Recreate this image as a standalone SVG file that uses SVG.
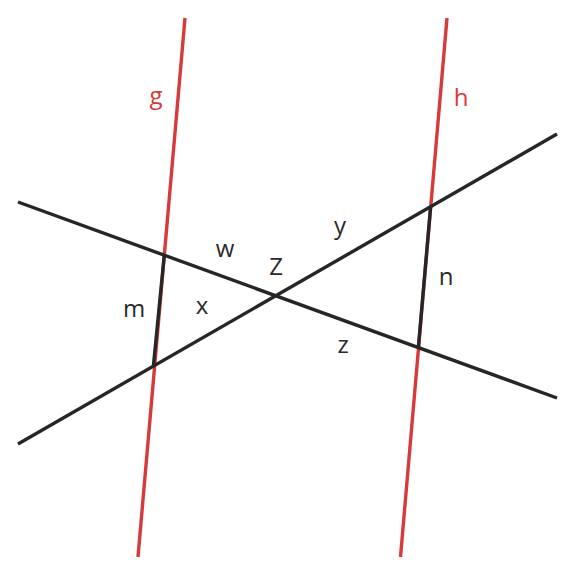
<svg xmlns="http://www.w3.org/2000/svg" width="576" height="576" viewBox="0 0 576 576">
<style>
.red{stroke:#d73a3a;stroke-width:3.4;fill:none}
.blk{stroke:#262626;stroke-width:3.4;fill:none;stroke-linecap:butt}
.lbl{font-family:"Open Sans","Noto Sans",sans-serif;font-size:24px;text-anchor:middle;fill:#2a2a2a}
.rl{fill:#d73a3a}
</style>
<rect width="576" height="576" fill="#fff"/>
<g id="connectors">
<line id="g-line" class="red" x1="185" y1="18" x2="138" y2="557"/>
<line id="h-line" class="red" x1="447" y1="18" x2="400.5" y2="557"/>
<line id="line1" class="blk" x1="18" y1="202" x2="557" y2="398"/>
<line id="line2" class="blk" x1="18" y1="444" x2="557" y2="134"/>
<line id="m" class="blk" x1="164.3" y1="255" x2="153.3" y2="367"/>
<line id="n" class="blk" x1="430.6" y1="207" x2="418.4" y2="347"/>
</g>
<g id="labels">
<text class="lbl rl" x="156" y="104">g</text>
<text class="lbl rl" x="461" y="106">h</text>
<text class="lbl" x="225" y="257">w</text>
<text class="lbl" x="276" y="275">Z</text>
<text class="lbl" x="340" y="234">y</text>
<text class="lbl" x="134" y="317">m</text>
<text class="lbl" x="202" y="314">x</text>
<text class="lbl" x="446" y="285">n</text>
<text class="lbl" x="343" y="353">z</text>
</g>
</svg>
